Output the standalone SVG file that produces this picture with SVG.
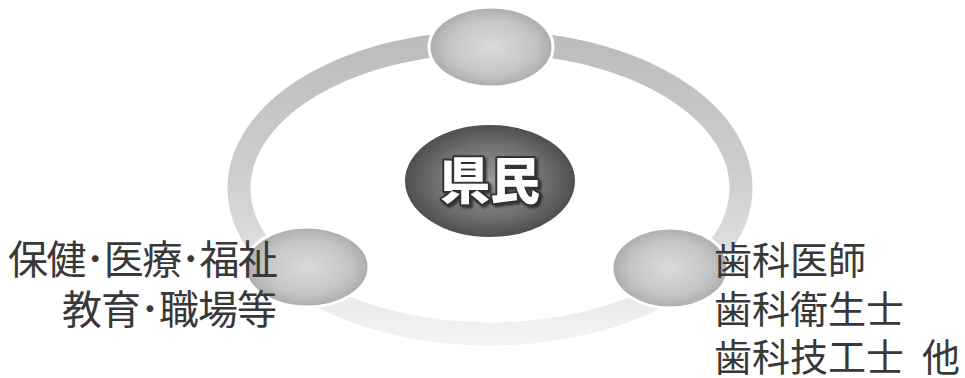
<svg xmlns="http://www.w3.org/2000/svg" width="965" height="378" viewBox="0 0 965 378">
<defs>
<linearGradient id="ringG" x1="0" y1="0" x2="0" y2="1">
<stop offset="0" stop-color="#bcbcbc"/>
<stop offset="0.5" stop-color="#d0d0d0"/>
<stop offset="1" stop-color="#f2f2f2"/>
</linearGradient>
<radialGradient id="nodeG" cx="0.5" cy="0.5" r="0.55">
<stop offset="0" stop-color="#dadada"/>
<stop offset="0.6" stop-color="#c6c6c6"/>
<stop offset="1" stop-color="#a4a4a4"/>
</radialGradient>
<radialGradient id="centerG" cx="0.5" cy="0.5" r="0.55">
<stop offset="0" stop-color="#9a9a9a"/>
<stop offset="0.6" stop-color="#6e6e6e"/>
<stop offset="1" stop-color="#444"/>
</radialGradient>
<filter id="sh" x="-20%" y="-20%" width="140%" height="140%">
<feDropShadow dx="2" dy="2" stdDeviation="1" flood-color="#222" flood-opacity="0.8"/>
</filter>
</defs>
<style>
.node{fill:url(#nodeG);stroke:#fff;stroke-width:3}
.lbl{font-family:"Noto Sans CJK JP","Noto Sans CJK SC",sans-serif;fill:#383838;font-weight:400}
.ctr{font-family:"Noto Sans CJK JP","Noto Sans CJK SC",sans-serif;font-weight:900;font-size:50px;fill:#fff;stroke:#333;stroke-width:4;paint-order:stroke;stroke-linejoin:round}
</style>
<g id="connectors">
<ellipse cx="490" cy="188" rx="251" ry="146" fill="none" stroke="url(#ringG)" stroke-width="23"/>
</g>
<g id="node-top">
<ellipse class="node" cx="491" cy="47" rx="62" ry="40"/>
</g>
<g id="node-left">
<ellipse class="node" cx="307" cy="267" rx="62" ry="40"/>
</g>
<g id="node-right">
<ellipse class="node" cx="670" cy="268" rx="58" ry="40"/>
</g>
<g id="node-center">
<ellipse cx="490" cy="181" rx="86" ry="57" fill="url(#centerG)" stroke="#fff" stroke-width="2"/>
<text class="ctr" x="490" y="199" text-anchor="middle" filter="url(#sh)">県民</text>
</g>
<g id="label-left" class="lbl" font-size="40">
<text x="8" y="274" textLength="270" lengthAdjust="spacing">保健･医療･福祉</text>
<text x="62" y="324" textLength="215" lengthAdjust="spacing">教育･職場等</text>
</g>
<g id="label-right" class="lbl" font-size="38">
<text x="714" y="274">歯科医師</text>
<text x="714" y="323">歯科衛生士</text>
<text x="714" y="371">歯科技工士<tspan x="922">他</tspan></text>
</g>
</svg>
